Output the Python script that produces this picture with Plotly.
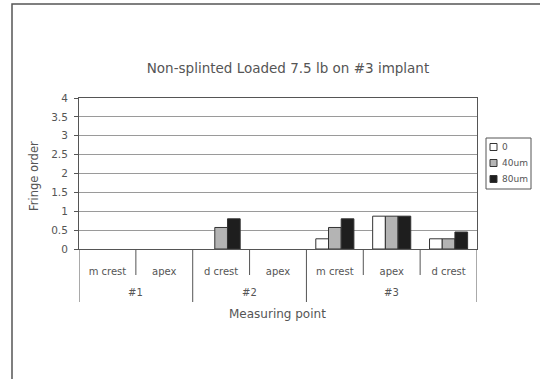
import plotly.graph_objects as go

# Measuring points, grouped by implant
implants = ["#1", "#1", "#2", "#2", "#3", "#3", "#3"]
points = ["m crest", "apex", "d crest", "apex", "m crest", "apex", "d crest"]

# Fringe order for each misfit level
series_names = ["0", "40um", "80um"]
fringe_0 = [0, 0, 0, 0, 0.27, 0.87, 0.27]
fringe_40 = [0, 0, 0.57, 0, 0.57, 0.87, 0.27]
fringe_80 = [0, 0, 0.8, 0, 0.8, 0.87, 0.45]

fills = ["#ffffff", "#b4b4b4", "#1e1e1e"]
font_color = "#555555"
line_color = "#555555"
family = "DejaVu Sans, Arial, sans-serif"

# plot area in pixels
L, R, T, B = 79, 477, 98, 249
W, H = R - L, B - T


def px(x):
    return (x - L) / W


def py(y):
    return (B - y) / H


pos = list(range(len(points)))

fig = go.Figure()
for name, vals, col in zip(series_names, [fringe_0, fringe_40, fringe_80], fills):
    fig.add_trace(go.Bar(
        x=pos, y=vals, name=name, showlegend=False,
        marker=dict(color=col,
                    line=dict(color="#333333",
                              width=[1 if v > 0 else 0 for v in vals])),
    ))

fig.update_layout(
    width=540, height=379,
    margin=dict(l=L, r=540 - R, t=T, b=379 - B, autoexpand=False),
    paper_bgcolor="white", plot_bgcolor="white",
    barmode="group", bargap=0.33, bargroupgap=0,
    font=dict(family=family, size=9, color=font_color),
    title=dict(text="Non-splinted Loaded 7.5 lb on #3 implant",
               x=288 / 540, xanchor="center", y=1 - 68 / 379, yanchor="middle",
               font=dict(size=13.5, color=font_color)),
    showlegend=False,
)

fig.update_yaxes(
    range=[0, 4], dtick=0.5,
    showgrid=True, gridcolor="#9a9a9a", gridwidth=1,
    showline=True, linecolor=line_color, linewidth=1, mirror=True,
    ticks="outside", ticklen=4, tickcolor=line_color,
    ticklabelstandoff=4,
    tickfont=dict(size=10.5, color=font_color), zeroline=False,
)
fig.update_xaxes(
    range=[-0.5, len(points) - 0.5],
    tickmode="array", tickvals=pos, ticktext=points,
    showline=True, linecolor=line_color, linewidth=1, mirror=True,
    ticks="", showgrid=False, zeroline=False,
    ticklabelstandoff=13,
    tickfont=dict(size=10, color=font_color),
)

# Dividers under the axis: short ones between points, long ones between implants
for i in range(len(points) + 1):
    edge = i - 0.5
    if i == 0 or i == len(points) or implants[i] != implants[i - 1]:
        y_end = py(302)
    else:
        y_end = py(275)
    fig.add_shape(type="line", xref="x", yref="paper", x0=edge, x1=edge,
                  y0=0, y1=y_end, line=dict(color=line_color, width=1))

# Implant labels centred under their points
for imp in dict.fromkeys(implants):
    idx = [i for i, v in enumerate(implants) if v == imp]
    fig.add_annotation(text=imp, xref="x", yref="paper",
                       x=sum(idx) / len(idx), y=py(292),
                       xanchor="center", yanchor="middle", showarrow=False,
                       font=dict(size=10, color=font_color))

# Axis titles
fig.add_annotation(text="Measuring point", xref="paper", yref="paper",
                   x=px(277), y=py(314), xanchor="center", yanchor="middle",
                   showarrow=False, font=dict(size=12, color=font_color))
fig.add_annotation(text="Fringe order", xref="paper", yref="paper",
                   x=px(34), y=py(176), xanchor="center", yanchor="middle",
                   textangle=-90, showarrow=False,
                   font=dict(size=11.5, color=font_color))

# Legend box
fig.add_shape(type="rect", xref="paper", yref="paper",
              x0=px(486), x1=px(531), y0=py(189), y1=py(138),
              line=dict(color=line_color, width=1), fillcolor="white")
for k, (name, col) in enumerate(zip(series_names, fills)):
    yc = 147 + 16 * k
    fig.add_shape(type="rect", xref="paper", yref="paper",
                  x0=px(490), x1=px(497), y0=py(yc + 3.5), y1=py(yc - 3.5),
                  line=dict(color="#333333", width=1), fillcolor=col)
    fig.add_annotation(text=name, xref="paper", yref="paper",
                       x=px(500), y=py(yc), xanchor="left", yanchor="middle",
                       showarrow=False, font=dict(size=9, color=font_color))

# Outer frame around the chart
fig.add_shape(type="rect", xref="paper", yref="paper",
              x0=px(12), x1=px(560), y0=py(400), y1=py(4),
              line=dict(color="#555555", width=1.5), layer="below")

fig.write_html("out.html")
